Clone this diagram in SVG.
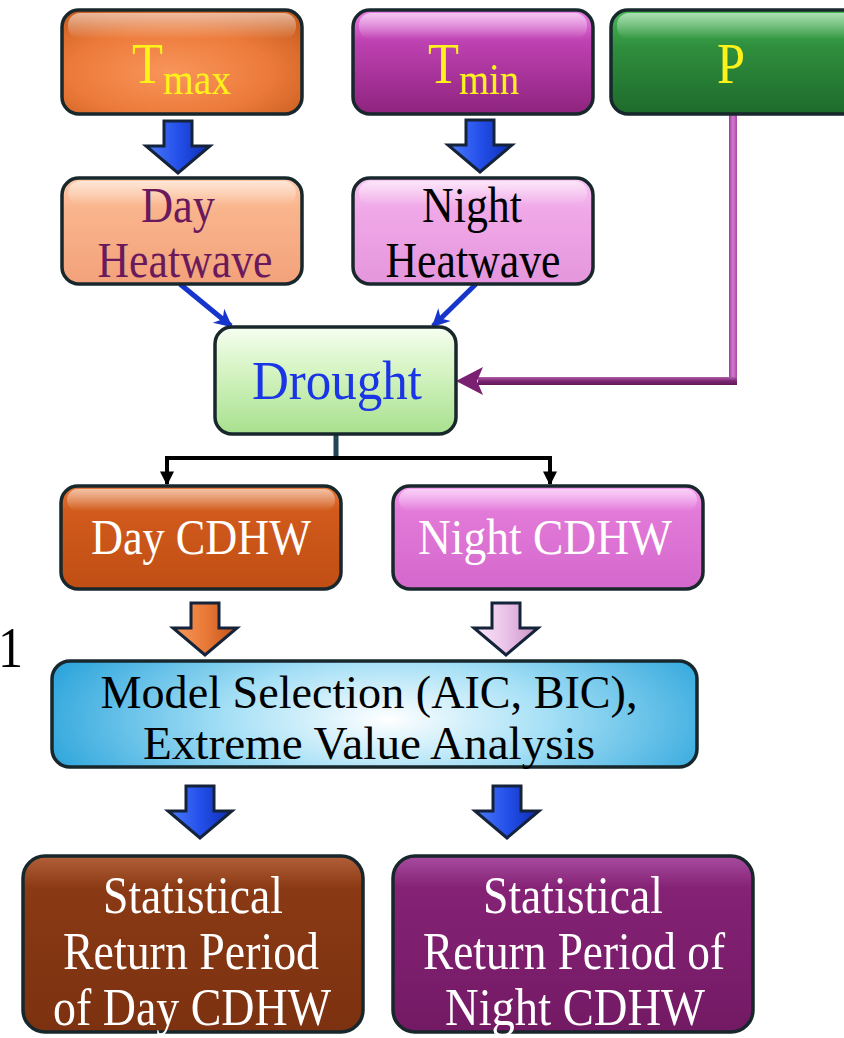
<svg xmlns="http://www.w3.org/2000/svg" width="844" height="1038" viewBox="0 0 844 1038">
  <style>
    .box { stroke: #17272C; stroke-width: 3.5; }
    .gloss { fill: url(#gloss); stroke: none; }
    .t { font-family: "Liberation Serif", "Times New Roman", serif; }
    .c { text-anchor: middle; }
    .ylw { fill: #FFF21A; }
    .wht { fill: #FFFFFF; }
    .blk { fill: #000000; }
    .barrow { stroke: #14233A; stroke-width: 3; stroke-linejoin: miter; }
  </style>
  <defs>
    <linearGradient id="gloss" x1="0" y1="0" x2="0" y2="1">
      <stop offset="0" stop-color="#FFFFFF" stop-opacity="0.55"/>
      <stop offset="1" stop-color="#FFFFFF" stop-opacity="0"/>
    </linearGradient>
    <radialGradient id="gTmax" cx="0.45" cy="0.6" r="0.7">
      <stop offset="0" stop-color="#F8955A"/>
      <stop offset="0.6" stop-color="#EC7A3A"/>
      <stop offset="1" stop-color="#C95E20"/>
    </radialGradient>
    <linearGradient id="gTmin" x1="0" y1="0" x2="0" y2="1">
      <stop offset="0" stop-color="#EC84E6"/>
      <stop offset="0.3" stop-color="#BE42B2"/>
      <stop offset="1" stop-color="#8E237E"/>
    </linearGradient>
    <linearGradient id="gP" x1="0" y1="0" x2="0" y2="1">
      <stop offset="0" stop-color="#4ABA58"/>
      <stop offset="0.35" stop-color="#2F8F3E"/>
      <stop offset="1" stop-color="#1E6A2B"/>
    </linearGradient>
    <linearGradient id="gDayHW" x1="0" y1="0" x2="0" y2="1">
      <stop offset="0" stop-color="#FDCBA9"/>
      <stop offset="0.3" stop-color="#F9B48C"/>
      <stop offset="1" stop-color="#F3A27A"/>
    </linearGradient>
    <linearGradient id="gNightHW" x1="0" y1="0" x2="0" y2="1">
      <stop offset="0" stop-color="#F8C6F2"/>
      <stop offset="0.3" stop-color="#F0A8E8"/>
      <stop offset="1" stop-color="#E596DC"/>
    </linearGradient>
    <linearGradient id="gDrought" x1="0" y1="0" x2="0" y2="1">
      <stop offset="0" stop-color="#F6FEF0"/>
      <stop offset="0.4" stop-color="#D6F4C4"/>
      <stop offset="1" stop-color="#A8E08E"/>
    </linearGradient>
    <linearGradient id="gDayCD" x1="0" y1="0" x2="0" y2="1">
      <stop offset="0" stop-color="#E57A3A"/>
      <stop offset="0.25" stop-color="#D15A1C"/>
      <stop offset="1" stop-color="#C04E14"/>
    </linearGradient>
    <linearGradient id="gNightCD" x1="0" y1="0" x2="0" y2="1">
      <stop offset="0" stop-color="#F69CF0"/>
      <stop offset="0.25" stop-color="#E27AD8"/>
      <stop offset="1" stop-color="#D468CC"/>
    </linearGradient>
    <radialGradient id="gModel" cx="0.52" cy="0.55" r="0.55" gradientTransform="translate(0.52 0.55) scale(1 2.2) translate(-0.52 -0.55)">
      <stop offset="0" stop-color="#FFFFFF"/>
      <stop offset="0.45" stop-color="#A6E0F6"/>
      <stop offset="1" stop-color="#2FA6DC"/>
    </radialGradient>
    <linearGradient id="gStatL" x1="0" y1="0" x2="0" y2="1">
      <stop offset="0" stop-color="#B2603A"/>
      <stop offset="0.18" stop-color="#8A3A14"/>
      <stop offset="1" stop-color="#7C3110"/>
    </linearGradient>
    <linearGradient id="gStatR" x1="0" y1="0" x2="0" y2="1">
      <stop offset="0" stop-color="#A84CA0"/>
      <stop offset="0.18" stop-color="#852275"/>
      <stop offset="1" stop-color="#731A64"/>
    </linearGradient>
    <linearGradient id="gBlue" x1="0" y1="0" x2="1" y2="0">
      <stop offset="0" stop-color="#4C7CFA"/>
      <stop offset="0.5" stop-color="#2450EA"/>
      <stop offset="1" stop-color="#0C2CB2"/>
    </linearGradient>
    <linearGradient id="gOrange" x1="0" y1="0" x2="1" y2="0">
      <stop offset="0" stop-color="#F59A5C"/>
      <stop offset="0.5" stop-color="#EA7A38"/>
      <stop offset="1" stop-color="#C0521A"/>
    </linearGradient>
    <linearGradient id="gPink" x1="0" y1="0" x2="1" y2="0">
      <stop offset="0" stop-color="#FBEAFA"/>
      <stop offset="0.5" stop-color="#EAC2E8"/>
      <stop offset="1" stop-color="#C890C6"/>
    </linearGradient>
    <linearGradient id="gPv" x1="0" y1="0" x2="1" y2="0">
      <stop offset="0" stop-color="#9C3E98"/>
      <stop offset="0.5" stop-color="#D57AD3"/>
      <stop offset="1" stop-color="#A448A0"/>
    </linearGradient>
    <linearGradient id="gPh" x1="0" y1="0" x2="0" y2="1">
      <stop offset="0" stop-color="#B060AA"/>
      <stop offset="0.5" stop-color="#7C2674"/>
      <stop offset="1" stop-color="#5E1858"/>
    </linearGradient>
    <path id="blockArrow" d="M-14,0 H14 V25 H32 L0,52 L-32,25 H-14 Z"/>
    <marker id="mBlue" viewBox="0 0 10 10" refX="9" refY="5" markerWidth="20" markerHeight="18" markerUnits="userSpaceOnUse" orient="auto">
      <path d="M0,0 L10,5 L0,10 L3,5 Z" fill="#1535CC"/>
    </marker>
    <marker id="mBlack" viewBox="0 0 10 10" refX="9" refY="5" markerWidth="17" markerHeight="14" markerUnits="userSpaceOnUse" orient="auto">
      <path d="M0,0 L10,5 L0,10 Z" fill="#000000"/>
    </marker>
  </defs>

  <rect width="844" height="1038" fill="#FFFFFF"/>

  <!-- connectors -->
  <g id="connectors">
    <use href="#blockArrow" class="barrow" fill="url(#gBlue)" transform="translate(178,121)"/>
    <use href="#blockArrow" class="barrow" fill="url(#gBlue)" transform="translate(480,120)"/>
    <line x1="180" y1="284" x2="231" y2="326" stroke="#1535CC" stroke-width="5" marker-end="url(#mBlue)"/>
    <line x1="476" y1="284" x2="433" y2="326" stroke="#1535CC" stroke-width="5" marker-end="url(#mBlue)"/>
    <rect x="729" y="114" width="8" height="271" fill="url(#gPv)"/>
    <rect x="478" y="377" width="259" height="8" fill="url(#gPh)"/>
    <polygon points="456,381 483,367 477,381 483,395" fill="#7A2070"/>
    <line x1="336" y1="434" x2="336" y2="459" stroke="#1F4652" stroke-width="5"/>
    <polyline points="167,482 167,458 550,458 550,482" fill="none" stroke="#000000" stroke-width="4"/>
    <line x1="167" y1="470" x2="167" y2="484" stroke="#000000" stroke-width="4" marker-end="url(#mBlack)"/>
    <line x1="550" y1="470" x2="550" y2="484" stroke="#000000" stroke-width="4" marker-end="url(#mBlack)"/>
    <use href="#blockArrow" class="barrow" fill="url(#gOrange)" transform="translate(205,603)"/>
    <use href="#blockArrow" class="barrow" fill="url(#gPink)" transform="translate(506,603)"/>
    <use href="#blockArrow" class="barrow" fill="url(#gBlue)" transform="translate(200,786)"/>
    <use href="#blockArrow" class="barrow" fill="url(#gBlue)" transform="translate(507,786)"/>
  </g>

  <g id="node-tmax">
    <rect class="box" x="62" y="10" width="240" height="104" rx="17" fill="url(#gTmax)"/>
    <rect class="gloss" x="68" y="13" width="228" height="26" rx="12"/>
    <text class="t ylw" x="132" y="83" font-size="57" textLength="31" lengthAdjust="spacingAndGlyphs">T</text>
    <text class="t ylw" x="163" y="94" font-size="45" textLength="68" lengthAdjust="spacingAndGlyphs">max</text>
  </g>

  <g id="node-tmin">
    <rect class="box" x="353" y="10" width="240" height="104" rx="17" fill="url(#gTmin)"/>
    <rect class="gloss" x="359" y="13" width="228" height="26" rx="12"/>
    <text class="t ylw" x="428" y="83" font-size="57" textLength="31" lengthAdjust="spacingAndGlyphs">T</text>
    <text class="t ylw" x="459" y="94" font-size="45" textLength="60" lengthAdjust="spacingAndGlyphs">min</text>
  </g>

  <g id="node-p">
    <rect class="box" x="611" y="10" width="260" height="104" rx="17" fill="url(#gP)"/>
    <rect class="gloss" x="617" y="13" width="250" height="26" rx="12"/>
    <text class="t ylw c" x="731" y="83" font-size="57" textLength="28" lengthAdjust="spacingAndGlyphs">P</text>
  </g>

  <g id="node-dayhw">
    <rect class="box" x="62" y="178" width="240" height="106" rx="17" fill="url(#gDayHW)"/>
    <rect class="gloss" x="68" y="181" width="228" height="24" rx="12"/>
    <text class="t c" x="178" y="222" font-size="50" fill="#6A1A5C" textLength="74" lengthAdjust="spacingAndGlyphs">Day</text>
    <text class="t c" x="185" y="277" font-size="50" fill="#6A1A5C" textLength="175" lengthAdjust="spacingAndGlyphs">Heatwave</text>
  </g>

  <g id="node-nighthw">
    <rect class="box" x="353" y="178" width="240" height="106" rx="17" fill="url(#gNightHW)"/>
    <rect class="gloss" x="359" y="181" width="228" height="24" rx="12"/>
    <text class="t c blk" x="472" y="222" font-size="50" textLength="100" lengthAdjust="spacingAndGlyphs">Night</text>
    <text class="t c blk" x="473" y="277" font-size="50" textLength="175" lengthAdjust="spacingAndGlyphs">Heatwave</text>
  </g>

  <g id="node-drought">
    <rect class="box" x="215" y="327" width="241" height="107" rx="17" fill="url(#gDrought)"/>
    <text class="t c" x="337" y="399" font-size="55" fill="#1A35E6" textLength="170" lengthAdjust="spacingAndGlyphs">Drought</text>
  </g>

  <g id="node-daycdhw">
    <rect class="box" x="61" y="486" width="280" height="103" rx="17" fill="url(#gDayCD)"/>
    <rect class="gloss" x="67" y="489" width="268" height="22" rx="11"/>
    <text class="t c wht" x="201" y="554" font-size="50" textLength="220" lengthAdjust="spacingAndGlyphs">Day CDHW</text>
  </g>

  <g id="node-nightcdhw">
    <rect class="box" x="393" y="486" width="310" height="103" rx="17" fill="url(#gNightCD)"/>
    <rect class="gloss" x="399" y="489" width="298" height="22" rx="11"/>
    <text class="t c wht" x="545" y="554" font-size="50" textLength="254" lengthAdjust="spacingAndGlyphs">Night CDHW</text>
  </g>

  <g id="label-1">
    <text class="t blk" x="-2" y="667" font-size="56" textLength="25" lengthAdjust="spacingAndGlyphs">1</text>
  </g>

  <g id="node-model">
    <rect class="box" x="52" y="661" width="645" height="106" rx="18" fill="url(#gModel)"/>
    <text class="t c blk" x="369" y="708" font-size="47" textLength="537" lengthAdjust="spacingAndGlyphs">Model Selection (AIC, BIC),</text>
    <text class="t c blk" x="369" y="759" font-size="47" textLength="452" lengthAdjust="spacingAndGlyphs">Extreme Value Analysis</text>
  </g>

  <g id="node-statday">
    <rect class="box" x="23" y="856" width="340" height="176" rx="22" fill="url(#gStatL)"/>
    <text class="t c wht" x="193" y="913" font-size="53" textLength="180" lengthAdjust="spacingAndGlyphs">Statistical</text>
    <text class="t c wht" x="191" y="969" font-size="53" textLength="256" lengthAdjust="spacingAndGlyphs">Return Period</text>
    <text class="t c wht" x="192" y="1025" font-size="53" textLength="278" lengthAdjust="spacingAndGlyphs">of Day CDHW</text>
  </g>

  <g id="node-statnight">
    <rect class="box" x="393" y="856" width="360" height="176" rx="22" fill="url(#gStatR)"/>
    <text class="t c wht" x="573" y="913" font-size="53" textLength="180" lengthAdjust="spacingAndGlyphs">Statistical</text>
    <text class="t c wht" x="574" y="969" font-size="53" textLength="302" lengthAdjust="spacingAndGlyphs">Return Period of</text>
    <text class="t c wht" x="575" y="1025" font-size="53" textLength="260" lengthAdjust="spacingAndGlyphs">Night CDHW</text>
  </g>
</svg>
